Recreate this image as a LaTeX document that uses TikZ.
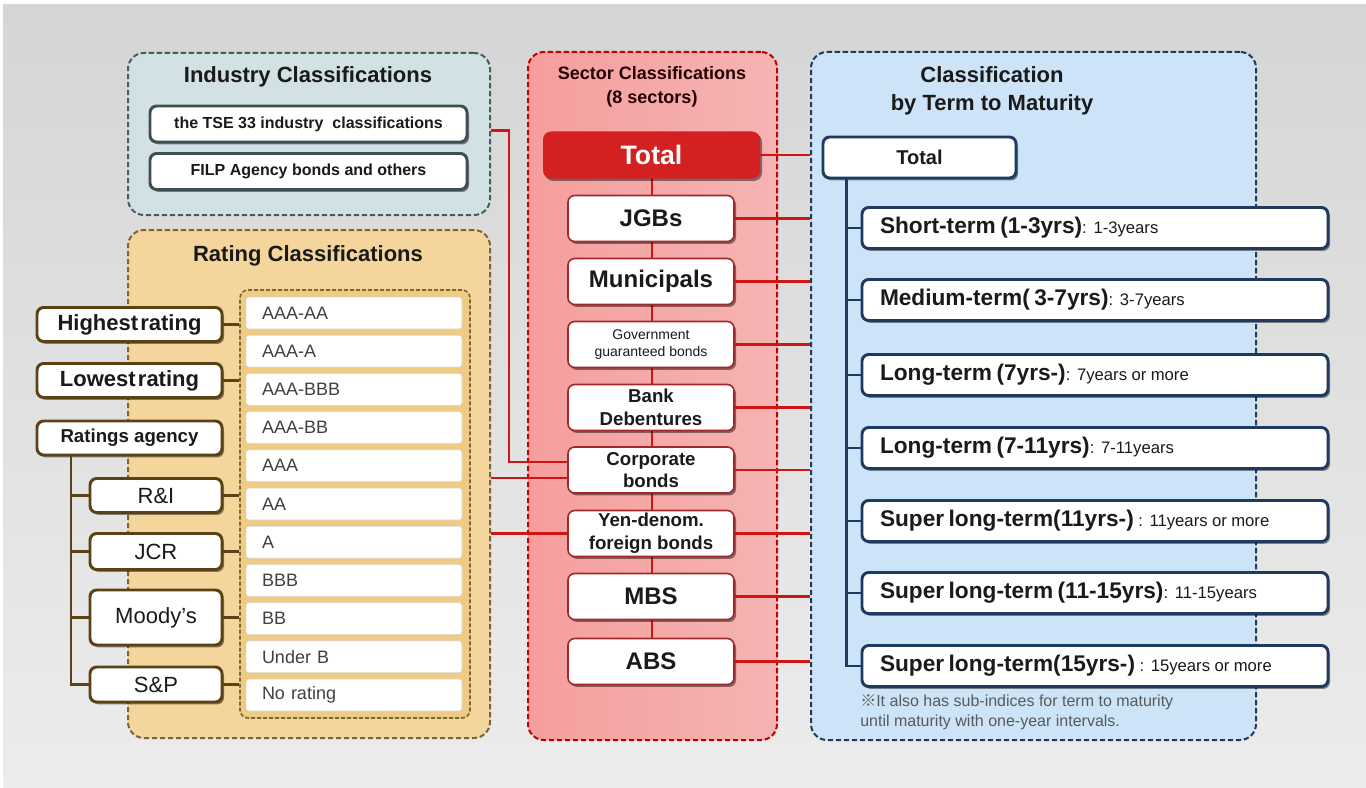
\documentclass[tikz,border=0pt]{standalone}
\usepackage{fontspec}
\setmainfont{Liberation Sans}
\newfontfamily\cjkfont{Noto Sans CJK JP}
\usetikzlibrary{shadows}
\definecolor{bgA}{HTML}{D5D5D5}
\definecolor{bgB}{HTML}{ECECEC}
\definecolor{indfill}{HTML}{D2E1E4}
\definecolor{inddraw}{HTML}{4A5A5E}
\definecolor{indbox}{HTML}{3E4E52}
\definecolor{ratfill}{HTML}{F4D59C}
\definecolor{ratdraw}{HTML}{7A6632}
\definecolor{ratin}{HTML}{EFCB84}
\definecolor{ratbox}{HTML}{5A4214}
\definecolor{secfill}{HTML}{F4A6A6}
\definecolor{secdraw}{HTML}{C00000}
\definecolor{secbox}{HTML}{A02828}
\definecolor{redtot}{HTML}{D42020}
\definecolor{redline}{HTML}{D01515}
\definecolor{rpfill}{HTML}{CDE4F8}
\definecolor{navy}{HTML}{1F3A5F}
\definecolor{txt}{HTML}{1A1A1A}
\newcommand\fs[2]{\fontsize{#1}{#2}\selectfont}
\begin{document}
\begin{tikzpicture}[x=0.75pt,y=-0.75pt,
  sz/.style 2 args={minimum width=#1*0.75pt, minimum height=#2*0.75pt, inner sep=0pt},
  panel/.style={line width=1.5pt, dash pattern=on 4pt off 2pt, rounded corners=12pt},
  shad/.style={drop shadow={shadow xshift=1.5pt, shadow yshift=-1.8pt, opacity=0.45, fill=black}},
  ttl/.style={text=txt, font=\fs{16.5}{21}\bfseries, align=center},
  indb/.style={shad, draw=indbox, line width=2.2pt, fill=white, rounded corners=5pt, text=txt, font=\fs{12}{14}\bfseries},
  ratb/.style={shad, draw=ratbox, line width=2.2pt, fill=white, rounded corners=5pt, text=txt},
  row/.style={fill=white, draw=ratdraw!30, line width=0.5pt, rounded corners=2pt, text=black!75, font=\fs{13.5}{15},
     text width=184*0.75pt, inner xsep=16*0.75pt, inner ysep=0pt, minimum height=32*0.75pt, align=left},
  secb/.style={shad, draw=secbox, line width=1.2pt, fill=white, rounded corners=5pt, text=txt, align=center},
  termb/.style={shad, draw=navy, line width=2.2pt, fill=white, rounded corners=5pt, text=txt,
     text width=430*0.75pt, inner xsep=18*0.75pt, inner ysep=0pt, minimum height=41*0.75pt, align=left},
  rl/.style={draw=redline, line width=1.8pt},
  bl/.style={draw=ratbox, line width=2pt},
  nl/.style={draw=navy, line width=2pt},
]
\useasboundingbox (0,0) rectangle (1366,788);
\fill[white] (0,0) rectangle (1366,788);
\shade[top color=bgA, bottom color=bgB] (3,5) rectangle (1366,788);

% panels
\node[panel, draw=inddraw, fill=indfill, sz={362}{162}] (ind) at (309,134) {};
\node[panel, draw=ratdraw, fill=ratfill, sz={362}{508}] (rat) at (309,484) {};
\node[panel, draw=secdraw, left color=secfill!95!red, right color=secfill!85!white, sz={249}{688}] (sec) at (652.5,396) {};
\node[panel, draw=navy, fill=rpfill, sz={445}{688}] (rp) at (1033.5,396) {};

% industry
\node[ttl] (indt) at (308,77) {Industry Classifications};
\node[indb, sz={317}{36}] (tse) at (308.5,124) {the TSE 33 industry\ \ classifications};
\node[indb, sz={317}{36}] (filp) at (308.5,171.5) {FILP Agency bonds and others};

% rating
\node[ttl] (ratt) at (308,256) {Rating Classifications};
\node[draw=ratdraw, line width=1.2pt, dash pattern=on 3pt off 1.5pt, fill=ratin, rounded corners=6pt, sz={230}{428}] (rin) at (355,504) {};
\foreach \t [count=\i] in {AAA-AA,AAA-A,AAA-BBB,AAA-BB,AAA,AA,A,BBB,BB,Under B,No rating}{
  \node[row] (r\i) at (354,{313+38.2*(\i-1)}) {\t};
}
\node[ratb, sz={185}{34}, font=\fs{16.5}{18}\bfseries] (hi) at (129.5,324.5) {Highest\hspace{0.1em}rating};
\node[ratb, sz={185}{34}, font=\fs{16.5}{18}\bfseries] (lo) at (129.5,380.5) {Lowest\hspace{0.1em}rating};
\node[ratb, sz={185}{34}, font=\fs{14}{16}\bfseries] (ra) at (129.5,438) {Ratings agency};
\node[ratb, sz={132}{34}, font=\fs{16.5}{18}] (ri) at (156,495.5) {R\&I};
\node[ratb, sz={132}{36}, font=\fs{16.5}{18}] (jcr) at (156,551.5) {JCR};
\node[ratb, sz={132}{55}, font=\fs{16.5}{18}] (mo) at (156,617.5) {Moody{\char"27}s};
\node[ratb, sz={132}{35}, font=\fs{16.5}{18}] (sp) at (156,684.5) {S\&P};
\coordinate (tt) at (71,455);
\draw[bl] (tt) |- (sp.west);
\foreach \n in {ri,jcr,mo}{\draw[bl] (tt |- \n.west) -- (\n.west);}
\foreach \n in {hi,lo,ri,jcr,mo,sp}{\draw[bl] (\n.east) -- (\n.east -| rin.west);}

% sector
\node[text=black!85!red, font=\fs{13.5}{18}\bfseries, align=center] (sect) at (652,87) {Sector Classifications\\(8 sectors)};
\draw[rl] (652,155) -- (652,661);
\node[shad, fill=redtot, rounded corners=6pt, sz={217}{47}, text=white, font=\fs{20}{22}\bfseries] (stot) at (651.5,155) {Total};
\node[secb, sz={166}{46}, font=\fs{18}{20}\bfseries] (jgb) at (651,218.5) {JGBs};
\node[secb, sz={166}{46}, font=\fs{18}{20}\bfseries] (mun) at (651,281.5) {Municipals};
\node[secb, sz={166}{46}, font=\fs{10.5}{12.5}] (ggb) at (651,344.5) {Government\\guaranteed bonds};
\node[secb, sz={166}{46}, font=\fs{14}{17}\bfseries] (bank) at (651,407.5) {Bank\\Debentures};
\node[secb, sz={166}{46}, font=\fs{14}{17}\bfseries] (corp) at (651,470) {Corporate\\bonds};
\node[secb, sz={166}{46}, font=\fs{14}{17}\bfseries] (yen) at (651,533.5) {Yen-denom.\\foreign bonds};
\node[secb, sz={166}{46}, font=\fs{18}{20}\bfseries] (mbs) at (651,596.5) {MBS};
\node[secb, sz={166}{46}, font=\fs{18}{20}\bfseries] (abs) at (651,661.5) {ABS};
\foreach \n in {stot,jgb,mun,ggb,bank,corp,yen,mbs,abs}{\draw[rl] (\n.east) -- (\n.east -| rp.west);}
\coordinate (cu) at ([yshift=6pt]corp.west);
\coordinate (cl) at ([yshift=-6pt]corp.west);
\draw[rl] ([yshift=2.5pt]ind.east) -- ++(18,0) |- (cu);
\draw[rl] (cl -| rat.east) -- (cl);
\draw[rl] (yen.west -| rat.east) -- (yen.west);

% term to maturity
\node[ttl] (rt) at (992,91) {Classification\\by Term to Maturity};
\node[shad, draw=navy, line width=2.2pt, fill=white, rounded corners=5pt, sz={193}{41}, text=txt, font=\fs{15}{17}\bfseries] (rtot) at (919.5,157.5) {Total};
\newcommand\tl[2]{{\fs{17}{18}\bfseries #1}{\fs{12.5}{15}#2}}
\node[termb] (t1) at (1095,228) {\tl{Short-term (1-3yrs)}{: 1-3years}};
\node[termb] (t2) at (1095,300) {\tl{Medium-term( 3-7yrs)}{: 3-7years}};
\node[termb] (t3) at (1095,375) {\tl{Long-term (7yrs-)}{: 7years or more}};
\node[termb] (t4) at (1095,448) {\tl{Long-term (7-11yrs)}{: 7-11years}};
\node[termb] (t5) at (1095,521) {\tl{Super long-term(11yrs-)}{ : 11years or more}};
\node[termb] (t6) at (1095,593) {\tl{Super long-term (11-15yrs)}{: 11-15years}};
\node[termb] (t7) at (1095,666) {\tl{Super long-term(15yrs-)}{ : 15years or more}};
\coordinate (rv) at ([xshift=18.75pt]rtot.south west);
\draw[nl] (rv) |- (t7.west);
\foreach \n in {t1,t2,t3,t4,t5,t6}{\draw[nl] (rv |- \n.west) -- (\n.west);}
\node[anchor=north west, text=black!65, font=\fs{12}{15}, align=left, inner sep=0pt] (note) at (860,694)
  {{\cjkfont ※}It also has sub-indices for term to maturity\\until maturity with one-year intervals.};
\end{tikzpicture}
\end{document}
